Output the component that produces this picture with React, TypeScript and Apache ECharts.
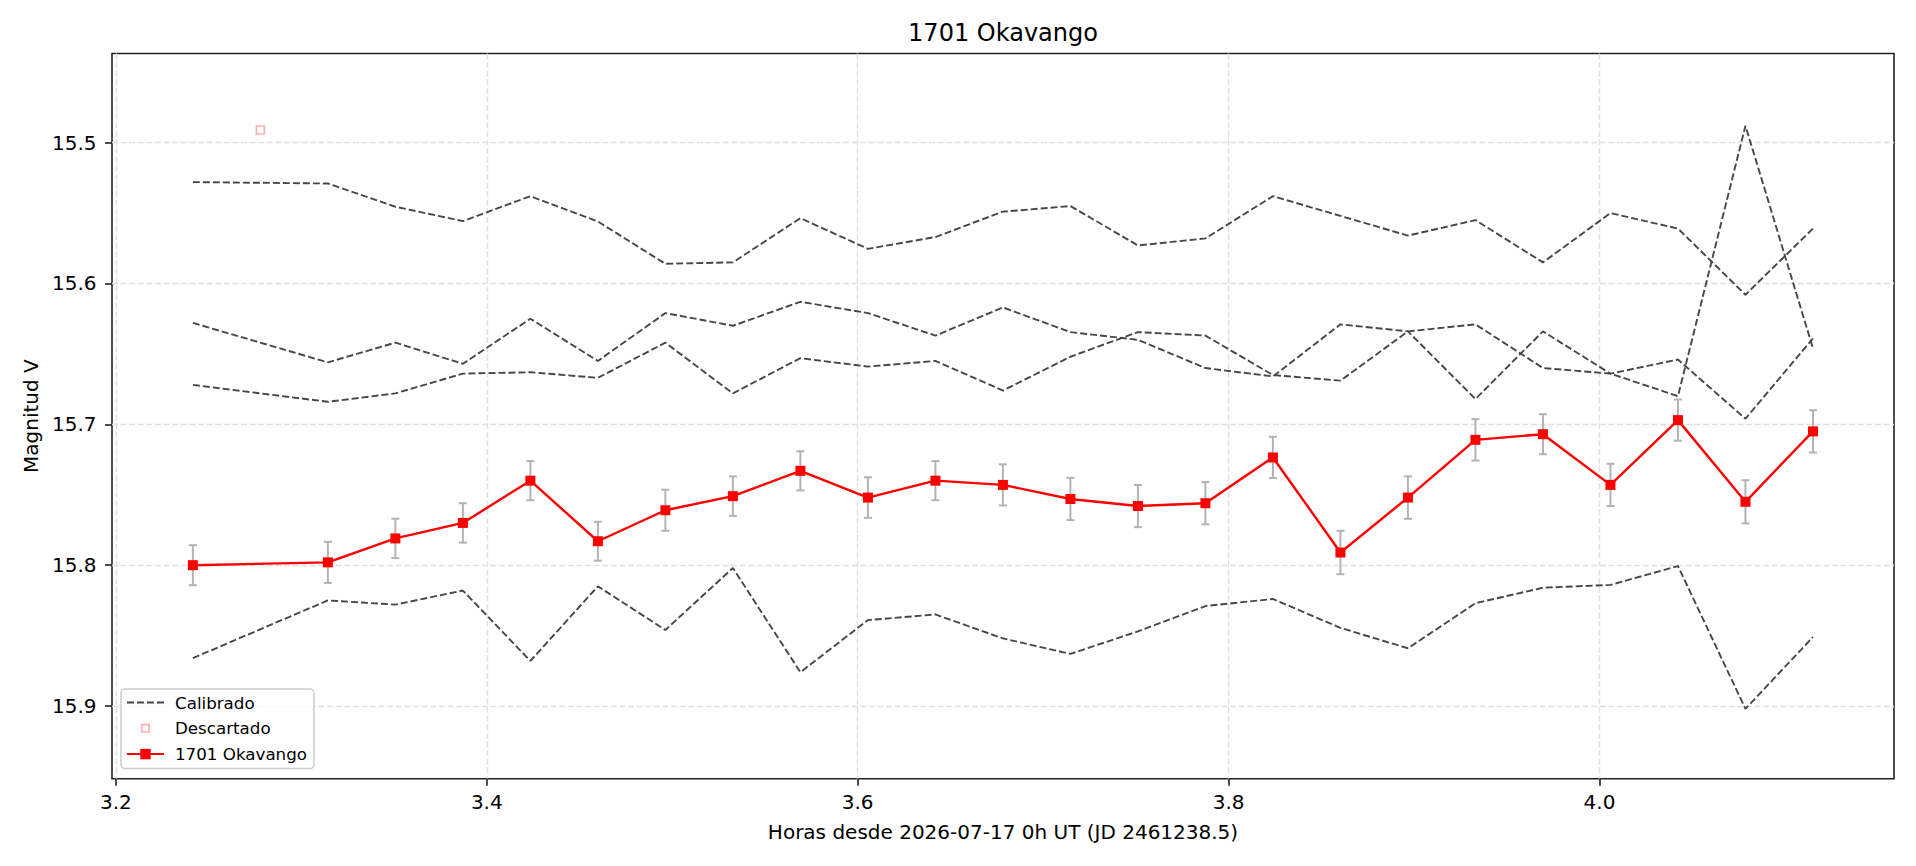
import React, { useEffect, useRef } from 'react';
import * as echarts from 'echarts';

// Hours since 2026-07-17 0h UT for the accepted frames
const hours = [
  3.2415, 3.3143, 3.3507, 3.3871, 3.4235, 3.4599, 3.4963, 3.5327, 3.5691, 3.6055,
  3.6419, 3.6783, 3.7147, 3.7511, 3.7875, 3.8239, 3.8603, 3.8967, 3.9331, 3.9695,
  4.0059, 4.0423, 4.0787, 4.1151,
];

// Calibration stars (dashed)
const calibA = [
  15.528, 15.529, 15.5455, 15.5557, 15.538, 15.556, 15.586, 15.585, 15.5536, 15.5754,
  15.567, 15.549, 15.545, 15.573, 15.568, 15.538, 15.552, 15.566, 15.555, 15.585,
  15.55, 15.561, 15.608, 15.561,
];
const calibB = [
  15.628, 15.656, 15.642, 15.657, 15.625, 15.655, 15.621, 15.63, 15.613, 15.621,
  15.637, 15.617, 15.6345, 15.64, 15.66, 15.666, 15.629, 15.634, 15.682, 15.634,
  15.664, 15.654, 15.696, 15.639,
];
const calibC = [
  15.672, 15.684, 15.678, 15.664, 15.663, 15.667, 15.642, 15.678, 15.653, 15.659,
  15.655, 15.676, 15.652, 15.6345, 15.637, 15.665, 15.669, 15.634, 15.629, 15.66,
  15.664, 15.68, 15.488, 15.646,
];
const calibD = [
  15.866, 15.825, 15.828, 15.818, 15.868, 15.815, 15.846, 15.802, 15.876, 15.839,
  15.835, 15.852, 15.863, 15.847, 15.829, 15.824, 15.8445, 15.859, 15.827, 15.816,
  15.814, 15.8006, 15.902, 15.851,
];

// Target
const target = [
  15.8, 15.798, 15.781, 15.77, 15.74, 15.783, 15.761, 15.751, 15.733, 15.752,
  15.74, 15.743, 15.753, 15.758, 15.756, 15.7235, 15.791, 15.752, 15.711, 15.707,
  15.743, 15.697, 15.755, 15.705,
];
const targetErr = [
  0.0142, 0.0146, 0.014, 0.014, 0.0139, 0.0138, 0.0146, 0.014, 0.0139, 0.0144,
  0.0139, 0.0146, 0.015, 0.015, 0.015, 0.0146, 0.0154, 0.0151, 0.0147, 0.0142,
  0.015, 0.0146, 0.0153, 0.015,
];

// Discarded frame
const discardedX = [3.2779];
const discardedY = [15.491];

const xTicks = [3.2, 3.4, 3.6, 3.8, 4.0];
const yTicks = [15.5, 15.6, 15.7, 15.8, 15.9];

const titleText = '1701 Okavango';
const xName = 'Horas desde 2026-07-17 0h UT (JD 2461238.5)';
const yName = 'Magnitud V';

export default function App() {
  const ref = useRef<HTMLDivElement>(null);

  useEffect(() => {
    document.body.style.margin = '0';
    const chart = echarts.init(ref.current!, null, { renderer: 'svg' });
    const font = 'DejaVu Sans';

    const calibSeries = [calibA, calibB, calibC, calibD].map((arr) => ({
      name: 'Calibrado',
      type: 'line',
      symbol: 'none',
      silent: true,
      z: 2,
      data: hours.map((h, i) => [h, arr[i]]),
      lineStyle: { color: '#474747', width: 1.9, type: [7, 3] },
      itemStyle: { color: '#474747' },
    }));

    const option: any = {
      animation: false,
      backgroundColor: '#ffffff',
      title: {
        text: titleText,
        left: 1003,
        top: 21,
        textAlign: 'center',
        padding: 0,
        textStyle: { fontFamily: font, fontSize: 24, fontWeight: 'normal', color: '#000' },
      },
      grid: {
        left: 112,
        right: 22,
        top: 53.5,
        bottom: 87.3,
        show: true,
        borderColor: '#222',
        borderWidth: 1.6,
        backgroundColor: 'rgba(0,0,0,0)',
      },
      legend: {
        orient: 'vertical',
        left: 121,
        top: 689,
        data: [
          {
            name: 'Calibrado',
            icon: 'path://M0,0h7v1.9h-7zM10,0h7v1.9h-7zM20,0h7v1.9h-7zM30,0h7v1.9h-7z',
            itemStyle: { color: '#474747', borderWidth: 0 },
          },
          {
            name: 'Descartado',
            icon: 'path://M0,0M13,13M2,2h9v9h-9zM3.6,3.6v5.8h5.8v-5.8z',
            itemStyle: { color: '#ff9999', borderWidth: 0 },
          },
          { name: '1701 Okavango' },
        ],
        itemWidth: 37,
        itemHeight: 13,
        itemGap: 8.8,
        padding: [5, 7, 6, 5],
        backgroundColor: 'rgba(255,255,255,0.8)',
        borderColor: '#cccccc',
        borderWidth: 1.5,
        borderRadius: 4,
        selectedMode: false,
        textStyle: { fontFamily: font, fontSize: 16.7, color: '#000', padding: [0, 0, 0, 6] },
      },
      xAxis: {
        type: 'value',
        min: 3.1979,
        max: 4.1588,
        name: xName,
        nameLocation: 'middle',
        nameGap: 43,
        nameTextStyle: { fontFamily: font, fontSize: 20, color: '#000' },
        axisLine: { show: false },
        axisTick: {
          show: true,
          inside: false,
          length: 7,
          customValues: xTicks,
          lineStyle: { color: '#222', width: 1.6 },
        },
        axisLabel: {
          customValues: xTicks,
          formatter: (v: number) => v.toFixed(1),
          margin: 13,
          fontFamily: font,
          fontSize: 20,
          color: '#000',
        },
        splitLine: { show: true, lineStyle: { color: '#e0e0e0', width: 1.4, type: [6, 2.6] } },
      },
      yAxis: {
        type: 'value',
        inverse: true,
        min: 15.4367,
        max: 15.9516,
        name: yName,
        nameLocation: 'middle',
        nameGap: 71,
        nameTextStyle: { fontFamily: font, fontSize: 20, color: '#000' },
        axisLine: { show: false },
        axisTick: {
          show: true,
          inside: false,
          length: 7,
          customValues: yTicks,
          lineStyle: { color: '#222', width: 1.6 },
        },
        axisLabel: {
          customValues: yTicks,
          formatter: (v: number) => v.toFixed(1),
          margin: 15.5,
          fontFamily: font,
          fontSize: 20,
          color: '#000',
        },
        splitLine: { show: true, lineStyle: { color: '#e0e0e0', width: 1.4, type: [6, 2.6] } },
      },
      series: [
        ...calibSeries,
        {
          name: 'Descartado',
          type: 'scatter',
          symbol: 'rect',
          symbolSize: 8,
          z: 3,
          data: discardedX.map((x, i) => [x, discardedY[i]]),
          itemStyle: { color: 'rgba(255,255,255,0)', borderColor: '#ff9999', borderWidth: 1.6 },
        },
        {
          name: 'errorbars',
          type: 'custom',
          z: 3,
          silent: true,
          data: hours.map((h, i) => [h, target[i], targetErr[i]]),
          encode: { x: 0, y: 1 },
          renderItem: (params: any, api: any) => {
            const x = api.value(0);
            const y = api.value(1);
            const e = api.value(2);
            const p1 = api.coord([x, y - e]);
            const p2 = api.coord([x, y + e]);
            const hw = 4;
            const style = { stroke: '#b3b3b3', lineWidth: 2, fill: 'none' };
            return {
              type: 'group',
              children: [
                { type: 'line', shape: { x1: p1[0], y1: p1[1], x2: p2[0], y2: p2[1] }, style },
                { type: 'line', shape: { x1: p1[0] - hw, y1: p1[1], x2: p1[0] + hw, y2: p1[1] }, style },
                { type: 'line', shape: { x1: p2[0] - hw, y1: p2[1], x2: p2[0] + hw, y2: p2[1] }, style },
              ],
            };
          },
        },
        {
          name: '1701 Okavango',
          type: 'line',
          symbol: 'rect',
          symbolSize: 10,
          z: 4,
          data: hours.map((h, i) => [h, target[i]]),
          lineStyle: { color: '#ff0000', width: 2.4 },
          itemStyle: { color: '#ff0000' },
        },
      ],
    };

    chart.setOption(option);
    return () => chart.dispose();
  }, []);

  return (
    <div
      ref={ref}
      style={{ position: 'fixed', left: 0, top: 0, width: 1916, height: 866 }}
    />
  );
}
